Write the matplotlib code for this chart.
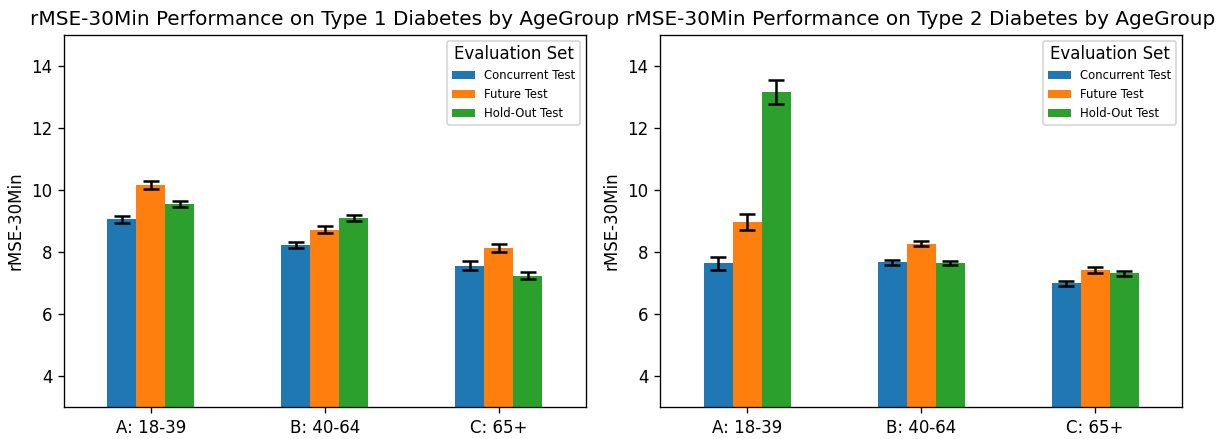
import matplotlib.pyplot as plt
import numpy as np

# Age groups and evaluation sets
AGE_GROUPS = ['A: 18-39', 'B: 40-64', 'C: 65+']
EVAL_SETS = ['Concurrent Test', 'Future Test', 'Hold-Out Test']

# rMSE-30Min mean per age group (rows: eval sets)
T1_MEAN = [[9.05, 8.22, 7.56],
           [10.16, 8.72, 8.14],
           [9.55, 9.09, 7.24]]
T1_ERR = [[0.12, 0.10, 0.14],
          [0.13, 0.11, 0.13],
          [0.10, 0.09, 0.11]]

T2_MEAN = [[7.64, 7.67, 6.99],
           [8.96, 8.27, 7.42],
           [13.16, 7.64, 7.31]]
T2_ERR = [[0.21, 0.08, 0.09],
          [0.25, 0.075, 0.09],
          [0.38, 0.075, 0.09]]

COLORS = ['#1f77b4', '#ff7f0e', '#2ca02c']


def plot_panel(ax, mean, err, title):
    x = np.arange(len(AGE_GROUPS))
    width = 0.5 / len(EVAL_SETS)
    for ii in range(len(EVAL_SETS)):
        offset = (ii - 1) * width
        ax.bar(x + offset, mean[ii], width, yerr=err[ii], color=COLORS[ii],
               label=EVAL_SETS[ii], capsize=5,
               error_kw={'elinewidth': 1.5, 'capthick': 1.5})
    ax.set_xticks(x)
    ax.set_xticklabels(AGE_GROUPS)
    ax.set_xlim(-0.5, 2.5)
    ax.set_ylim(3, 15)
    ax.set_ylabel('rMSE-30Min')
    ax.set_title(title)
    ax.legend(title='Evaluation Set', loc='upper right', fontsize=7,
              title_fontsize=10)


fig = plt.figure(figsize=(1228 / 120, 439 / 120), dpi=120)
ax1 = fig.add_axes([0.0521, 0.0729, 0.4251, 0.8474])
ax2 = fig.add_axes([0.5375, 0.0729, 0.4251, 0.8474])

plot_panel(ax1, T1_MEAN, T1_ERR, 'rMSE-30Min Performance on Type 1 Diabetes by AgeGroup')
plot_panel(ax2, T2_MEAN, T2_ERR, 'rMSE-30Min Performance on Type 2 Diabetes by AgeGroup')

fig.savefig('out.png', dpi=120)
plt.close()
